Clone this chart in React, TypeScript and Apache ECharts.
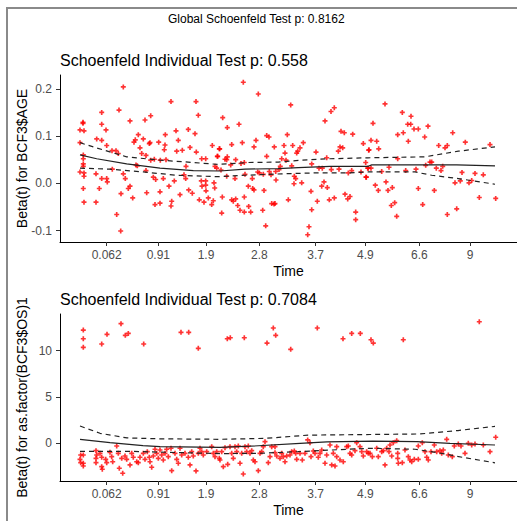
import React, { useEffect, useRef } from "react";
import * as echarts from "echarts";

// x values are on the transformed (KM-scaled) time axis used by the plot
const xTickPositions = [46.7, 98.3, 146, 199.3, 255.7, 305.3, 359.3, 410];
const xTickLabels = ["0.062", "0.91", "1.9", "2.8", "3.7", "4.9", "6.6", "9"];
const xMin = 0;
const xMax = 457;

const ageTicks = [-0.1, 0, 0.1, 0.2];
const osTicks = [0, 5, 10];

const globalTitle = "Global Schoenfeld Test p: 0.8162";
const ageTitle = "Schoenfeld Individual Test p: 0.558";
const osTitle = "Schoenfeld Individual Test p: 0.7084";
const ageYName = "Beta(t) for BCF3$AGE";
const osYName = "Beta(t) for as.factor(BCF3$OS)1";

// Panel 1: BCF3$AGE residuals
const ageResiduals: [number, number][] = [
  [63.3,0.204],[23,0.129],[23,0.127],[20,0.113],[24,0.111],[41.7,0.150],[41.7,0.125],[46,0.113],[59,0.155],[36.7,0.094],[41.7,0.091],[20,0.086],[23.3,0.060],[23.3,0.052],[23.3,0.041],[23.3,0.036],[20,0.024],[24,0.022],[24,0.015],[23.3,-0.011],[24,-0.040],[36,-0.040],[36,0.020],[39.3,-0.011],[41.7,0.010],[46.7,0.010],[47.3,0.003],[46.7,0.080],[52,0.069],[56,0.069],[58.3,0.063],[52.3,0.030],[56.7,-0.066],[60.7,-0.101],[61,-0.022],[63.3,0.020],[65.3,0.010],[68.3,-0.011],[70,-0.006],[72.7,-0.031],[70,0.132],[74,0.087],[75.3,0.092],[78.3,0.103],[76,0.039],[80,0.075],[81.7,0.063],[83.3,0.094],[77.3,0.037],[85,0.134],[90.7,0.143],[86,0.059],[86,0.027],[86.7,-0.020],[89.3,0.084],[90,0.086],[90.7,0.049],[94.3,0.051],[93.3,0.013],[95.7,0.008],[95,-0.045],[98.7,0.087],[100,-0.018],[100.3,0.049],[100,-0.042],[103.3,0.010],[104.3,0.071],[105,0.081],[105.3,0.103],[106,0.050],[109,-0.006],[111,0.173],[111.7,-0.038],[111,-0.048],[114.3,0.005],[116,0.111],[116.7,0.068],[118.3,0.091],[122.3,0.070],[120,-0.024],[124,0.018],[125.7,0.010],[126,0.036],[128.3,0.114],[128.7,-0.014],[130,0.076],[132.3,-0.021],[135,0.105],[136,0.173],[138.3,0.144],[136.3,0.066],[139.3,-0.035],[141.3,0.005],[145.7,0.005],[142,-0.006],[145.7,-0.004],[144,-0.040],[141.7,0.052],[145.7,0.052],[146,-0.016],[148.3,-0.031],[151.7,-0.045],[153.3,-0.037],[152.3,0.080],[154,0.001],[154.7,-0.010],[157.3,0.057],[159.3,0.073],
  [183.3,0.214],[198.3,0.189],[230.7,0.166],[271,0.152],[274.3,0.160],[162.7,0.139],[179,0.125],[167.3,0.118],[265,0.132],[281,0.110],[284.3,0.107],[292.7,0.104],[206.7,0.101],[209,0.098],[227.3,0.103],[196,0.091],[182.3,0.086],[171.7,0.082],[243.3,0.086],[224,0.080],[232.7,0.080],[214.3,0.077],[194,0.077],[159.7,0.073],[240,0.075],[237.7,0.068],[236.7,0.064],[280,0.077],[282.7,0.075],[303.3,0.084],[309,0.071],[256,0.066],[278.3,0.068],[225,0.064],[206.7,0.057],[157.7,0.057],[165,0.051],[167.3,0.056],[166.7,0.050],[175.7,0.050],[170.7,0.039],[181,0.042],[184.3,0.044],[221.7,0.052],[226,0.049],[231.7,0.037],[251.7,0.041],[266.7,0.054],[155,0.036],[156.7,0.032],[161,0.028],[197.7,0.024],[199.3,0.022],[203.3,0.019],[209.3,0.025],[215.7,0.025],[219,0.029],[220.3,0.036],[211,0.018],[216,0.007],[192.3,0.010],[185,0.019],[166.7,0.015],[175,0.010],[234.3,0.015],[235.7,0.010],[241.7,0.001],[234,-0.001],[259,0.032],[262.3,0.032],[271.3,0.029],[279,0.030],[288.3,0.022],[291.7,0.027],[301,0.024],[306.3,0.013],[305.7,0.044],[308.3,0.032],[264,0.003],[261.7,-0.006],[267.3,-0.009],[251,-0.017],[188.3,-0.006],[192.7,-0.011],[194,-0.014],[204,-0.015],[162.3,-0.029],[171.7,-0.035],[173.3,-0.038],[175.7,-0.033],[184.3,-0.029],[177.7,-0.047],[180,-0.057],[188.7,-0.049],[190.7,-0.061],[184.3,-0.061],[161.7,-0.063],[202.7,-0.057],[211.7,-0.043],[214,-0.044],[215,-0.043],[205.7,-0.090],[228.3,-0.035],[257.3,-0.038],[251.7,-0.056],[249,-0.092],[247.7,-0.109],[269.3,-0.035],[274.3,-0.031],[285,-0.023],[287.7,-0.033],[290,-0.028],[295.7,-0.061],[295.7,-0.077],
  [325,0.168],[342.3,0.150],[351,0.142],[347.7,0.125],[350.7,0.125],[354,0.115],[358.3,0.115],[368,0.121],[313,0.127],[343.3,0.107],[337.7,0.103],[364.7,0.098],[311,0.091],[316.7,0.089],[348.3,0.089],[392.7,0.107],[318.7,0.073],[308.7,0.070],[378.7,0.080],[387.3,0.080],[385,0.075],[405.3,0.087],[430,0.082],[337.7,0.052],[370,0.045],[371.7,0.045],[365.7,0.038],[307.7,0.032],[311,0.032],[329,0.034],[376.3,0.032],[382.7,0.036],[381,0.027],[356,0.030],[345.7,0.027],[321.7,0.025],[402,0.023],[415,0.021],[423.3,0.018],[306,0.013],[400.3,0.005],[395,0.001],[409,0.001],[411.7,0.006],[326,0.003],[315.3,-0.004],[318.3,-0.015],[328,-0.015],[332.3,-0.009],[358.3,-0.011],[374.3,-0.015],[419.3,-0.030],[435.7,-0.032],[334.7,-0.041],[331.3,-0.047],[362.7,-0.045],[336.7,-0.070],[396.7,-0.054],[387.3,-0.066]
];
const ageFit: [number, number][] = [[20,0.060],[36.7,0.052],[66.7,0.041],[100,0.032],[133.3,0.027],[160,0.026],[185,0.030],[218.3,0.031],[238.3,0.033],[270,0.036],[308.3,0.036],[311.7,0.039],[396.7,0.039],[435,0.037]];
const ageUpper: [number, number][] = [[20,0.086],[33.3,0.077],[66.7,0.056],[100,0.049],[133.3,0.044],[158,0.040],[188,0.044],[218.3,0.045],[241.7,0.049],[270,0.052],[308,0.054],[365,0.056],[398.3,0.068],[435,0.077]];
const ageLower: [number, number][] = [[20,0.032],[50,0.030],[83.3,0.024],[116.7,0.017],[158,0.014],[185,0.017],[221.7,0.020],[255,0.022],[288.3,0.022],[308.3,0.024],[355,0.024],[371.7,0.017],[398.3,0.010],[435,-0.002]];

// Panel 2: as.factor(BCF3$OS)1 residuals
const osResiduals: [number, number][] = [
  [23.3,12.24],[23.3,11.30],[23.3,10.37],[41.7,10.73],[47,11.78],[61,12.93],[65.3,11.67],[68.3,11.88],[83.7,10.73],[121,11.99],[128.7,11.99],[138.3,10.26],[167.3,11.30],[170.3,11.41],[184.3,11.41],[207,10.83],[213.3,12.46],[215.7,11.67],[230.7,10.15],[257.3,12.46],[283,11.30],[291.7,11.88],[300.3,11.88],[311,11.19],[313.3,10.83],[343.3,11.19],[419.3,13.14],
  [20.7,-1.30],[23.3,-1.30],[20,-1.77],[20.7,-2.13],[23.3,-2.20],[23.3,-2.49],[36,-0.83],[36.7,-1.30],[36,-1.66],[36,-2.13],[40,-1.12],[41.7,-1.55],[41.7,-2.57],[42.3,-2.85],[45.7,-1.77],[46.7,-2.13],[50,-1.01],[51.7,-1.48],[52.7,-2.03],[56.7,-0.33],[58.3,-1.12],[59.3,-2.74],[62.7,-3.28],[61.7,-1.66],[65,-1.41],[66.7,-1.77],[70,-2.38],[71.7,-1.12],[73.3,-1.55],[76.7,-2.03],[78.3,-2.13],[80,-1.55],[83.3,-1.12],[85,-1.77],[87.3,-0.94],[89.3,-1.55],[90,-2.03],[91.7,-2.63],[93.3,-1.41],[95,-0.68],[96.7,-1.12],[98.3,-1.66],[100,-0.76],[101.7,-1.30],[103.3,-1.84],[105,-1.12],[106.7,-0.68],[108.3,-1.48],[111,-0.57],[111.7,-3.00],[115,-1.12],[116.7,-1.77],[118.3,-2.20],[120,-0.57],[121.7,-1.30],[125,-1.12],[128.3,-1.55],[130,-2.38],[131.7,-0.94],[133.3,-1.41],[136,-3.03],[138.3,-1.12],[140,-0.57],[141.7,-0.94],[143.3,-1.30],[146.7,-0.94],[151.7,-0.40],[153.3,-1.12],[155,-1.48],[156.7,-0.94],[159.3,-1.66],
  [160,-1.84],[163.3,-2.57],[167.7,-2.31],[161.7,-0.94],[165,-0.51],[170,-0.40],[171.7,-1.12],[173.3,-1.66],[175,-0.40],[176.7,-0.94],[178.3,-0.33],[180,-2.20],[181.7,-1.12],[183.3,-3.36],[185,-0.40],[186.7,-0.94],[188.3,-0.33],[190,-1.12],[191.7,-0.83],[193.3,-1.84],[195,-2.03],[198.3,-3.00],[200,-1.12],[201.7,-0.94],[205,0.14],[203.3,-0.40],[208.3,-2.13],[210,-1.48],[211.7,-0.40],[215,-0.40],[215,-1.05],[216.7,-1.41],[220,-1.66],[221.7,-1.12],[223.3,-1.48],[225,-2.03],[226.7,-1.41],[230,-1.30],[231.7,-0.94],[234.3,-0.87],[235.7,-1.12],[236.7,-1.77],[240,-1.12],[242.3,-1.84],[245,-1.12],[247.7,0.33],[250,0.03],[251,-1.48],[253.3,-0.87],[255,-1.12],[258.3,-1.55],[260,-1.12],[261.7,-0.76],[265,-2.20],[266.7,-1.30],[270,-0.22],[271.7,-2.38],[275,-2.49],[273.3,-1.12],[276.7,-1.48],[276.7,-0.40],[280,-1.84],[283.3,-2.03],[286.7,-0.40],[288.3,-0.33],[290,-1.12],[291.7,-1.30],[295,-0.83],[296.7,0.03],[300,-0.40],[301.7,-0.94],[303.3,-1.41],[308.3,-1.12],
  [306.7,-0.94],[310,-1.12],[312.3,-1.48],[316.7,-0.57],[318.3,-1.48],[321.7,-0.94],[323.3,-0.83],[325,-2.38],[326.7,-0.57],[329,-0.94],[330,-0.22],[333.3,0.03],[336.7,0.25],[331.7,-1.41],[337.7,-1.12],[337.7,-1.66],[338.3,-2.20],[342.3,-2.13],[345,-0.76],[348.3,-1.48],[350,-1.84],[351.7,-2.03],[354.3,-1.77],[358.3,-0.33],[358.3,-1.77],[362.3,0.03],[365,-0.94],[366.7,-1.55],[368.3,-1.84],[371,-0.94],[374.3,-0.22],[376.7,-0.94],[380,-0.83],[381.7,-1.12],[383.3,-0.76],[386.7,0.40],[388.3,-1.30],[392.3,-1.48],[394.3,-0.33],[398.3,-0.11],[401,-0.33],[405,-1.12],[408.3,-0.03],[411.7,-0.22],[415,-0.11],[423.3,-0.22],[430,-0.94],[435.7,0.62]
];
const osFit: [number, number][] = [[20,0.40],[50,0.03],[83,-0.29],[100,-0.40],[160,-0.47],[190,-0.35],[240,-0.05],[267,0.12],[313,0.2],[357,0.14],[390,-0.04],[435,-0.22]];
const osUpper: [number, number][] = [[20,1.84],[40,1.05],[67,0.55],[100,0.45],[160,0.4],[205,0.5],[248,0.85],[310,0.92],[360,0.98],[398,1.35],[435,1.8]];
const osLower: [number, number][] = [[20,-0.9],[67,-0.9],[160,-1.15],[198,-1.12],[238,-0.94],[272,-0.76],[310,-0.57],[355,-0.68],[378,-1.05],[405,-1.6],[435,-2.15]];

const FONT = "Liberation Sans, Arial, sans-serif";
const PLUS = "path://M2,0H4V2H6V4H4V6H2V4H0V2H2Z";

export default function App() {
  const ref = useRef<HTMLDivElement>(null);
  useEffect(() => {
    if (!ref.current) return;
    const chart = echarts.init(ref.current, undefined, { renderer: "svg" });

    const xLabel = (v: number) => {
      let best = 0;
      for (let i = 1; i < xTickPositions.length; i++) {
        if (Math.abs(xTickPositions[i] - v) < Math.abs(xTickPositions[best] - v)) best = i;
      }
      return xTickLabels[best];
    };

    const makeX = (gridIndex: number) => ({
      type: "value",
      gridIndex,
      min: xMin,
      max: xMax,
      name: "Time",
      nameLocation: "middle",
      nameGap: 22,
      nameMoveOverlap: false,
      nameTextStyle: { fontSize: 14, color: "#000", fontFamily: FONT },
      axisLine: { show: true, onZero: false, lineStyle: { color: "#000", width: 1 } },
      axisTick: { show: true, length: 4, customValues: xTickPositions, lineStyle: { color: "#333" } },
      axisLabel: {
        show: true,
        customValues: xTickPositions,
        formatter: (v: number) => xLabel(v),
        fontSize: 12,
        color: "#4d4d4d",
        fontFamily: FONT,
        margin: 7,
      },
      splitLine: { show: false },
    });

    const makeY = (gridIndex: number, min: number, max: number, ticks: number[], name: string, dec: number) => ({
      type: "value",
      gridIndex,
      min,
      max,
      name,
      nameLocation: "middle",
      nameGap: 31,
      nameRotate: 90,
      nameMoveOverlap: false,
      nameTextStyle: { fontSize: 14, color: "#000", fontFamily: FONT },
      axisLine: { show: true, onZero: false, lineStyle: { color: "#000", width: 1 } },
      axisTick: { show: true, length: 4, customValues: ticks, lineStyle: { color: "#333" } },
      axisLabel: {
        show: true,
        customValues: ticks,
        formatter: (v: number) => v.toFixed(dec),
        fontSize: 12,
        color: "#4d4d4d",
        fontFamily: FONT,
        margin: 8,
      },
      splitLine: { show: false },
    });

    const scatter = (data: [number, number][], idx: number) => ({
      type: "scatter",
      xAxisIndex: idx,
      yAxisIndex: idx,
      data,
      symbol: PLUS,
      symbolSize: 5,
      itemStyle: { color: "#ff0000" },
      silent: true,
    });
    const line = (data: [number, number][], idx: number, dashed: boolean) => ({
      type: "line",
      xAxisIndex: idx,
      yAxisIndex: idx,
      data,
      showSymbol: false,
      symbol: "none",
      lineStyle: { color: "#222", width: 1.2, type: dashed ? [5, 4] : "solid" },
      silent: true,
    });

    chart.setOption({
      animation: false,
      backgroundColor: "#fff",
      title: [
        { text: globalTitle, left: 168, top: 13, padding: 0, textStyle: { fontSize: 12, fontWeight: "normal", color: "#000", fontFamily: FONT } },
        { text: ageTitle, left: 60, top: 52, padding: 0, textStyle: { fontSize: 16, fontWeight: "normal", color: "#000", fontFamily: FONT } },
        { text: osTitle, left: 60, top: 291, padding: 0, textStyle: { fontSize: 16, fontWeight: "normal", color: "#000", fontFamily: FONT } },
      ],
      graphic: [
        {
          type: "rect",
          shape: { x: 7, y: 8, width: 530, height: 530 },
          style: { fill: "none", stroke: "#8a8a8a", lineWidth: 2 },
          silent: true,
        },
      ],
      grid: [
        { left: 60, top: 75, width: 457, height: 167, containLabel: false },
        { left: 60, top: 314, width: 457, height: 167, containLabel: false },
      ],
      xAxis: [makeX(0), makeX(1)],
      yAxis: [
        makeY(0, -0.1243, 0.2293, ageTicks, ageYName, 1),
        makeY(1, -4.12, 13.98, osTicks, osYName, 0),
      ],
      series: [
        scatter(ageResiduals, 0),
        line(ageFit, 0, false),
        line(ageUpper, 0, true),
        line(ageLower, 0, true),
        scatter(osResiduals, 1),
        line(osFit, 1, false),
        line(osUpper, 1, true),
        line(osLower, 1, true),
      ],
    });
    return () => chart.dispose();
  }, []);
  return (
    <div
      ref={ref}
      style={{ position: "absolute", left: 0, top: 0, width: 517, height: 521 }}
    />
  );
}
